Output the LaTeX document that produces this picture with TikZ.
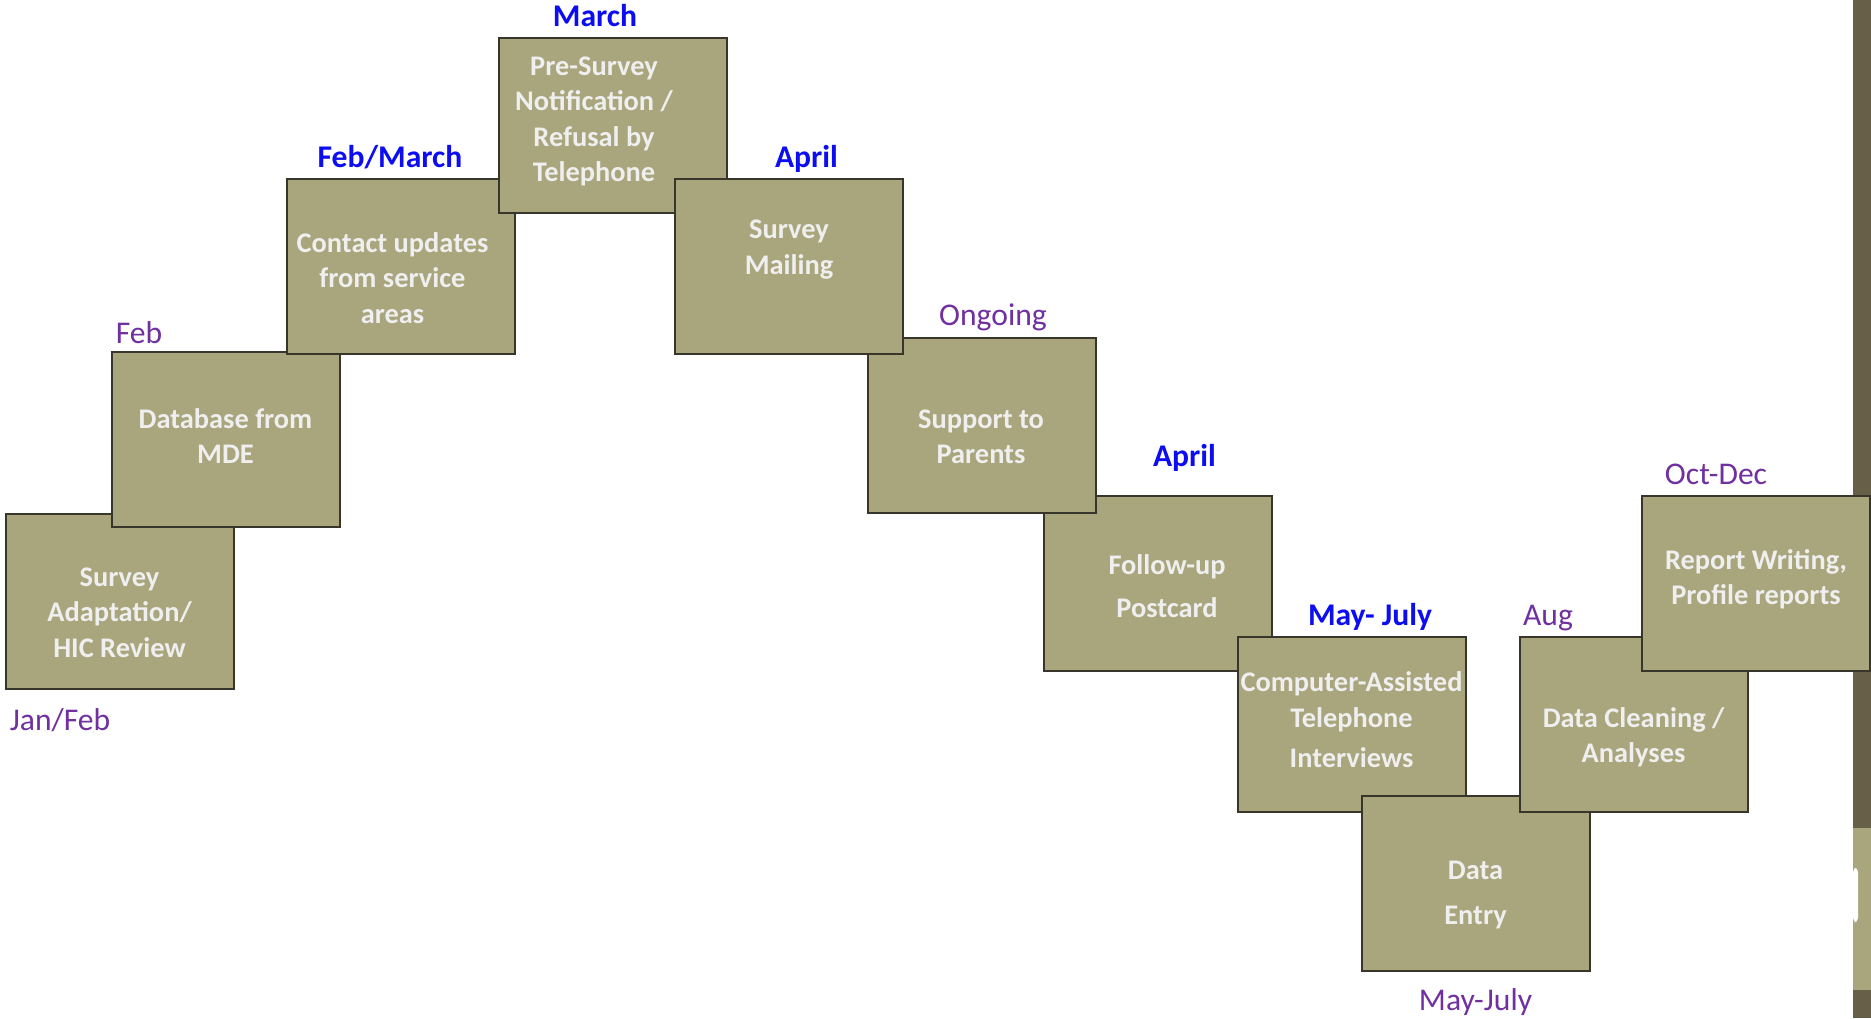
\documentclass[tikz,border=0pt]{standalone}
\usepackage{fontspec}
\setmainfont{Carlito}
\usepackage{tikz}
\usetikzlibrary{positioning}
\definecolor{stepfill}{HTML}{A9A57C}
\definecolor{stepedge}{HTML}{38352A}
\definecolor{steptext}{HTML}{EFEFEF}
\definecolor{planblue}{HTML}{0D0DF2}
\definecolor{datepurple}{HTML}{7030A0}
\definecolor{sidebar}{HTML}{675F48}
\pgfdeclareradialshading{slideglow}{\pgfpoint{0bp}{0bp}}{%
  color(0bp)=(white); color(34bp)=(white); color(50bp)=(black!10)}
\tikzset{
  stepbox/.style={draw=stepedge, fill=stepfill, line width=1pt,
    minimum width=114pt, minimum height=87.5pt, inner sep=0pt},
  stepwords/.style={text=steptext, align=center, anchor=base, inner sep=0pt,
    font=\bfseries\fontsize{14.2}{17.75}\selectfont},
  planlabel/.style={text=planblue, anchor=base, inner sep=0pt,
    font=\bfseries\fontsize{15.8}{19}\selectfont},
  datelabel/.style={text=datepurple, anchor=base, inner sep=0pt,
    font=\fontsize{15.8}{19}\selectfont}
}
\begin{document}
\begin{tikzpicture}[x=0.5pt, y=-0.5pt]
  \useasboundingbox (0,0) rectangle (1871,1018);
  \begin{scope}
    \clip (0,0) rectangle (1853,1018);
    \shade[shading=slideglow] (800,400) circle [radius=650pt];
  \end{scope}
  \fill[sidebar] (1853,0) rectangle (1871,1018);
  \fill[stepfill] (1853,828) rectangle (1871,990);
  \fill[white, rounded corners=2pt] (1853,868) rectangle (1858,922);

  \node[stepbox] (adapt) at (120,601.5) {};
  \node[stepwords] (adapt-txt) at (119.5,657) {Survey\\Adaptation/\\HIC Review};
  \node[stepbox] (mde) at (225.5,439) {};
  \node[stepwords] (mde-txt) at (225.5,463.5) {Database from\\MDE};
  \node[stepbox] (contact) at (400.5,266.5) {};
  \node[stepwords] (contact-txt) at (392.5,323) {Contact updates\\from service\\areas};
  \node[stepbox] (presurvey) at (612.5,125.5) {};
  \node[stepwords] (presurvey-txt) at (594,181.5) {Pre-Survey\\Notification /\\Refusal by\\Telephone};
  \node[stepbox] (postcard) at (1158,583) {};
  \node[stepwords, font=\bfseries\fontsize{14.2}{21.5}\selectfont] (postcard-txt) at (1167,617) {Follow-up\\Postcard};
  \node[stepbox] (support) at (982,425.5) {};
  \node[stepwords] (support-txt) at (981,463.5) {Support to\\Parents};
  \node[stepbox] (mailing) at (788.5,266.5) {};
  \node[stepwords] (mailing-txt) at (789,274) {Survey\\Mailing};
  \node[stepbox] (cati) at (1352,724.5) {};
  \node[stepwords, font=\bfseries\fontsize{14.2}{18}\selectfont] (cati-txt) at (1351.5,767) {Computer-Assisted\\Telephone\\[2pt]Interviews};
  \node[stepbox] (entry) at (1475.5,883) {};
  \node[stepwords, font=\bfseries\fontsize{14.2}{22.5}\selectfont] (entry-txt) at (1475.5,924) {Data\\Entry};
  \node[stepbox] (cleaning) at (1633.5,724.5) {};
  \node[stepwords] (cleaning-txt) at (1633.5,762.5) {Data Cleaning /\\Analyses};
  \node[stepbox] (report) at (1756,583) {};
  \node[stepwords] (report-txt) at (1756,604.5) {Report Writing,\\Profile reports};

  \node[datelabel] (janfeb) at (60,730) {Jan/Feb};
  \node[datelabel] (feb) at (139,343) {Feb};
  \node[planlabel] (febmarch) at (390,167) {Feb/March};
  \node[planlabel] (march) at (595,26) {March};
  \node[planlabel] (april) at (806.5,167) {April};
  \node[datelabel] (ongoing) at (993,325) {Ongoing};
  \node[planlabel] (aprilpost) at (1184.5,466) {April};
  \node[planlabel] (mayjuly) at (1370,625) {May- July};
  \node[datelabel] (aug) at (1548,625) {Aug};
  \node[datelabel] (octdec) at (1716,484) {Oct-Dec};
  \node[datelabel] (mayjulyentry) at (1475.5,1010) {May-July};
\end{tikzpicture}
\end{document}
